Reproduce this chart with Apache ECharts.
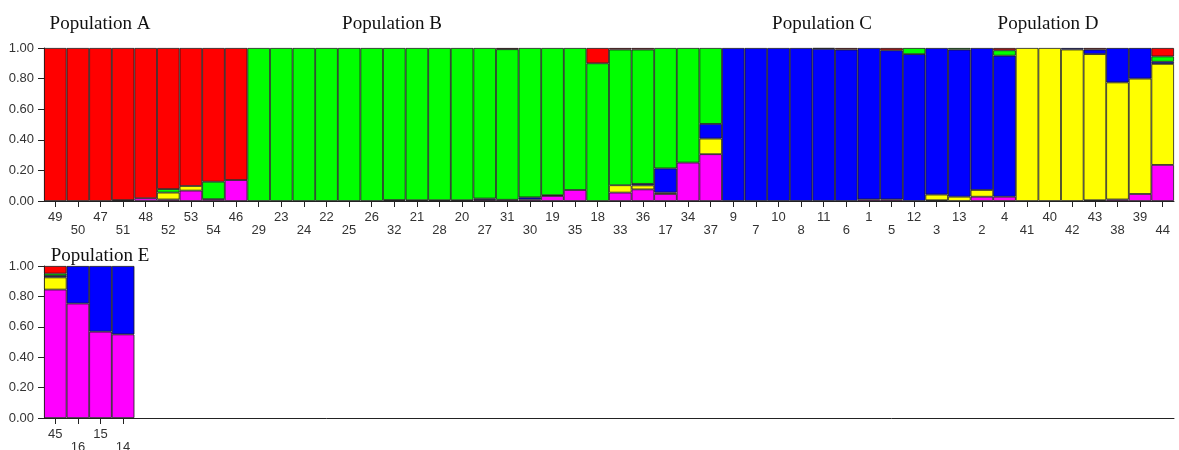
<!DOCTYPE html>
<html>
<head>
<meta charset="utf-8">
<script src="https://cdn.jsdelivr.net/npm/echarts@6/dist/echarts.min.js"></script>
<style>
  html, body { margin: 0; padding: 0; background: #fff; }
  #chart { width: 1179px; height: 450px; }
</style>
</head>
<body>
<div id="chart"></div>
<script>
// Individuals in plotting order (upper panel: populations A–D, lower panel: population E)
const individualsTop = [
  '49','50','47','51','48','52','53','54','46',
  '29','23','24','22','25','26','32','21','28','20','27','31','30','19','35','18','33','36','17','34','37',
  '9','7','10','8','11','6','1','5','12','3','13','2','4',
  '41','40','42','43','38','39','44'
];
const individualsBottom = ['45','16','15','14'];

// Membership coefficients per cluster, bottom segment first
const magentaTop = [
  0,0,0,0.006,0.018,0.01,0.068,0.012,0.137,
  0,0,0,0,0,0,0.006,0.005,0.005,0.005,0.008,0.008,0.01,0.033,0.072,0,0.055,0.076,0.046,0.251,0.306,
  0,0,0,0,0,0,0.01,0.01,0,0.005,0,0.028,0.028,
  0,0,0,0.005,0.01,0.046,0.236
];
const yellowTop = [
  0,0,0,0,0,0.045,0.03,0,0,
  0,0,0,0,0,0,0,0,0,0,0,0,0,0,0,0,0.048,0.026,0.009,0,0.102,
  0,0,0,0,0,0,0,0,0,0.037,0.028,0.044,0,
  1,1,0.99,0.955,0.765,0.754,0.66
];
const blueTop = [
  0,0,0,0,0,0,0,0,0,
  0,0,0,0,0,0,0,0,0,0,0.008,0,0.014,0.005,0,0,0,0.01,0.158,0,0.096,
  1,1,1,1,0.995,0.99,0.99,0.975,0.96,0.958,0.962,0.928,0.922,
  0,0,0.01,0.03,0.225,0.2,0.014
];
const greenTop = [
  0,0,0,0,0,0.023,0,0.114,0,
  1,1,1,1,1,1,0.994,0.995,0.995,0.995,0.984,0.984,0.976,0.962,0.928,0.9,0.887,0.878,0.787,0.749,0.496,
  0,0,0,0,0,0,0,0,0.04,0,0.01,0,0.035,
  0,0,0,0,0,0,0.035
];
const redTop = [
  1,1,1,0.994,0.982,0.922,0.902,0.874,0.863,
  0,0,0,0,0,0,0,0,0,0,0,0.008,0,0,0,0.1,0.01,0.01,0,0,0,
  0,0,0,0,0.005,0.01,0,0.015,0,0,0,0,0.015,
  0,0,0,0.01,0,0,0.055
];

const magentaBottom = [0.845, 0.753, 0.568, 0.55];
const yellowBottom  = [0.08, 0, 0, 0];
const blueBottom    = [0.01, 0.247, 0.432, 0.45];
const greenBottom   = [0.015, 0, 0, 0];
const redBottom     = [0.05, 0, 0, 0];

const yTicks = ['0.00','0.20','0.40','0.60','0.80','1.00'];

const clusterColors = ['#ff00ff', '#ffff00', '#0000ff', '#00ff00', '#ff0000'];
const clusterNames = ['K1', 'K2', 'K3', 'K4', 'K5'];

// Lower panel shares the same slot width as the upper one
const slotCount = individualsTop.length;
const bottomCategories = individualsBottom.concat(
  new Array(slotCount - individualsBottom.length).fill('')
);

const axisFont = "'Liberation Sans Narrow', 'Arial Narrow', 'Liberation Sans', sans-serif";
const serifFont = "'Liberation Serif', 'Times New Roman', serif";

function xAxisFor(gridIndex, cats) {
  return {
    type: 'category',
    gridIndex: gridIndex,
    data: cats,
    boundaryGap: true,
    axisLine: { show: true, lineStyle: { color: '#222', width: 1 } },
    axisTick: {
      show: true,
      alignWithLabel: true,
      length: 6,
      interval: function (idx, val) { return val !== ''; },
      lineStyle: { color: '#222', width: 1 }
    },
    axisLabel: {
      interval: 0,
      margin: 10,
      color: '#333',
      fontFamily: axisFont,
      fontSize: 13,
      lineHeight: 13,
      formatter: function (val, idx) { return idx % 2 ? '\n' + val : val; }
    },
    splitLine: { show: false }
  };
}

function yAxisFor(gridIndex) {
  return {
    type: 'value',
    gridIndex: gridIndex,
    min: 0,
    max: 1,
    interval: 0.2,
    axisLine: { show: true, lineStyle: { color: '#222', width: 1 } },
    axisTick: { show: true, length: 6, lineStyle: { color: '#222', width: 1 } },
    axisLabel: {
      margin: 10,
      color: '#333',
      fontFamily: axisFont,
      fontSize: 13,
      formatter: function (v) { return yTicks[Math.round(v / 0.2)]; }
    },
    splitLine: { show: false }
  };
}

const topSets = [magentaTop, yellowTop, blueTop, greenTop, redTop];
const bottomSets = [magentaBottom, yellowBottom, blueBottom, greenBottom, redBottom];

const series = [];
topSets.forEach(function (arr, k) {
  series.push({
    type: 'bar', name: clusterNames[k], stack: 'top',
    xAxisIndex: 0, yAxisIndex: 0,
    barCategoryGap: '0%',
    data: arr.map(function (v) { return v > 0 ? v : null; }),
    itemStyle: { color: clusterColors[k], borderColor: '#1a1a1a', borderWidth: 0.8 },
    animation: false
  });
});
bottomSets.forEach(function (arr, k) {
  series.push({
    type: 'bar', name: clusterNames[k], stack: 'bottom',
    xAxisIndex: 1, yAxisIndex: 1,
    barCategoryGap: '0%',
    data: arr.map(function (v) { return v > 0 ? v : null; }),
    itemStyle: { color: clusterColors[k], borderColor: '#1a1a1a', borderWidth: 0.8 },
    animation: false
  });
});

function popTitle(text, x, y) {
  return {
    text: text, left: x, top: y, textAlign: 'center', padding: 0,
    textStyle: { fontFamily: serifFont, fontSize: 19, fontWeight: 'normal', color: '#111' }
  };
}

const chart = echarts.init(document.getElementById('chart'), null, { renderer: 'canvas' });
chart.setOption({
  animation: false,
  backgroundColor: '#ffffff',
  title: [
    popTitle('Population A', 100, 15),
    popTitle('Population B', 392, 15),
    popTitle('Population C', 822, 15),
    popTitle('Population D', 1048, 15),
    popTitle('Population E', 100, 247)
  ],
  grid: [
    { left: 44, right: 5, top: 48, height: 153, outerBoundsMode: 'none' },
    { left: 44, right: 5, top: 266, height: 152, outerBoundsMode: 'none' }
  ],
  xAxis: [xAxisFor(0, individualsTop), xAxisFor(1, bottomCategories)],
  yAxis: [yAxisFor(0), yAxisFor(1)],
  series: series
});
</script>
</body>
</html>
